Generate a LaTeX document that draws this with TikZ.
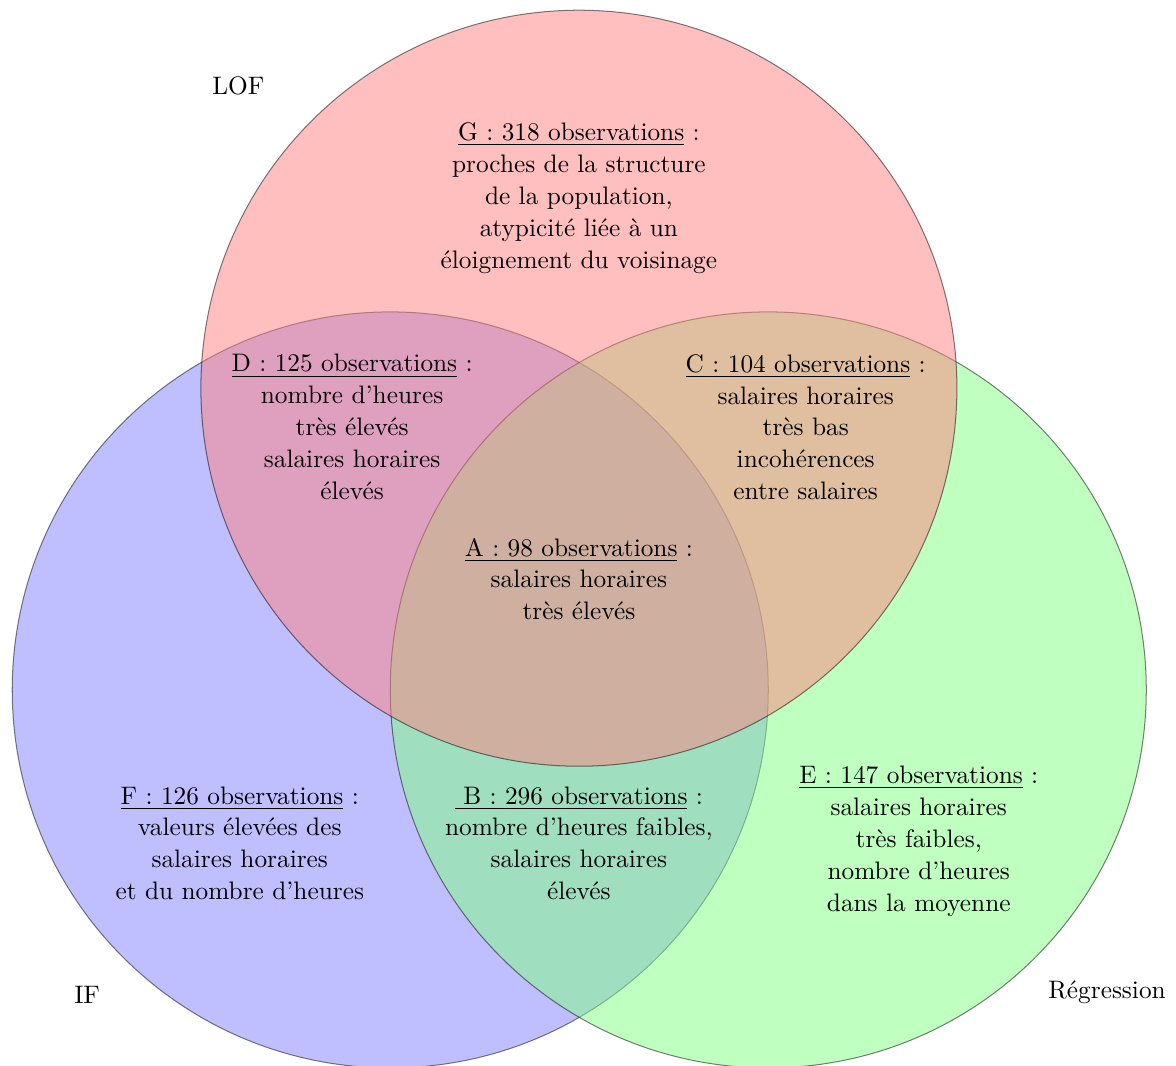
\documentclass[tikz,border=0pt]{standalone}
\begin{document}
\begin{tikzpicture}[zone/.style={align=center, font=\linespread{1.05}\selectfont}]
\useasboundingbox (0,0) rectangle (16.333,14.792);

%centres des cercles
\coordinate (lof) at (8.04,9.40);
\coordinate (if) at (5.42,5.21);
\coordinate (reg) at (10.67,5.21);

%cercles
\begin{scope}[opacity=0.5]
\draw[fill=blue!50] (if) circle (5.25);
\draw[fill=green!50] (reg) circle (5.25);
\draw[fill=red!50] (lof) circle (5.25);
\end{scope}

%noms des methodes
\node (nomlof) at (3.31,13.60) {LOF};
\node (nomif) at (1.21,0.97) {IF};
\node (nomreg) at (15.375,1.01) {Régression};

%zones
\node[zone] (g) at (8.04,12.04) {\underline{G : 318 observations} :\\ proches de la structure\\ de la population,\\ atypicité liée à un\\ éloignement du voisinage};
\node[zone] (d) at (4.89,8.86) {\underline{D : 125 observations} :\\ nombre d'heures\\ très élevés\\ salaires horaires\\ élevés};
\node[zone] (c) at (11.19,8.86) {\underline{C : 104 observations} :\\ salaires horaires\\ très bas\\ incohérences\\ entre salaires};
\node[zone] (a) at (8.04,6.75) {\underline{A : 98 observations} :\\ salaires horaires\\ très élevés};
\node[zone] (f) at (3.33,3.08) {\underline{F : 126 observations} :\\ valeurs élevées des\\ salaires horaires\\ et du nombre d'heures};
\node[zone] (b) at (8.04,3.08) {\underline{\ B : 296 observations} :\\ nombre d'heures faibles,\\ salaires horaires\\ élevés};
\node[zone] (e) at (12.76,3.11) {\underline{E : 147 observations} :\\ salaires horaires\\ très faibles,\\ nombre d'heures\\ dans la moyenne};

\end{tikzpicture}
\end{document}
